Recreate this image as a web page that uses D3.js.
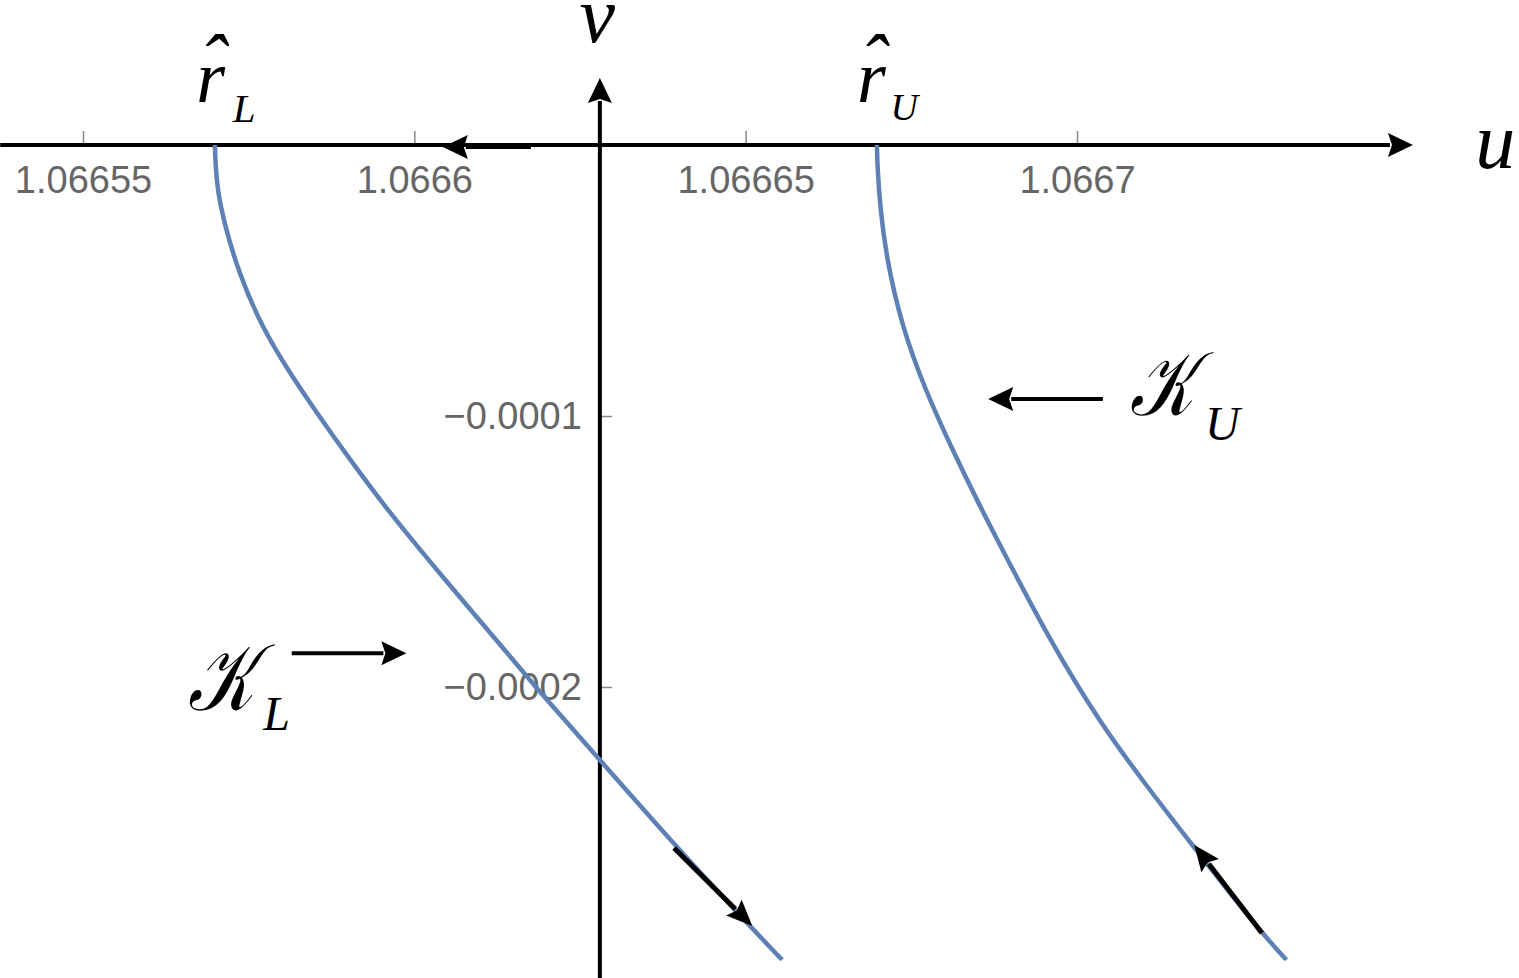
<!DOCTYPE html>
<html>
<head>
<meta charset="utf-8">
<script src="https://cdn.jsdelivr.net/npm/d3@7"></script>
<style>
  body { margin: 0; background: #fff; }
  .tick text { font-family: "Liberation Sans", Arial, sans-serif; font-size: 38px; fill: #666; }
  .tick line { stroke: #888; stroke-width: 1.5; }
  .math { font-family: "Liberation Serif", "DejaVu Serif", serif; font-style: italic; fill: #000; }
</style>
</head>
<body>
<div id="chart"></div>
<script>
// tick values and labels
var uTicks = [1.06655, 1.0666, 1.06665, 1.0667];
var uTickLabels = ["1.06655", "1.0666", "1.06665", "1.0667"];
var vTicks = [-0.0001, -0.0002];
var vTickLabels = ["\u22120.0001", "\u22120.0002"];

// lower branch K_L  [u, v]
var curveL = [
  [1.0665699, 0], [1.0665700, -0.0000074], [1.0665703, -0.0000166],
  [1.0665713, -0.0000288], [1.0665735, -0.0000472], [1.0665770, -0.0000672],
  [1.0665812, -0.0000841], [1.0665850, -0.0000978], [1.0665903, -0.0001162],
  [1.0665963, -0.0001358], [1.0666025, -0.0001542], [1.0666089, -0.0001727],
  [1.0666149, -0.0001900], [1.0666196, -0.0002037], [1.0666280, -0.0002269],
  [1.0666390, -0.0002576], [1.0666502, -0.0002871], [1.0666555, -0.0003007]
];

// upper branch K_U  [u, v]
var curveU = [
  [1.0666698, 0], [1.0666699, -0.0000089], [1.0666703, -0.0000229],
  [1.0666712, -0.0000413], [1.0666736, -0.0000672], [1.0666771, -0.0000904],
  [1.0666810, -0.0001114], [1.0666851, -0.0001321], [1.0666893, -0.0001520],
  [1.0666959, -0.0001827], [1.0667032, -0.0002122], [1.0667106, -0.0002369],
  [1.0667174, -0.0002583], [1.0667239, -0.0002786], [1.0667278, -0.0002904],
  [1.0667316, -0.0003007]
];

// direction arrows sitting on the curves
var flowArrows = [
  {from: [1.0666392, -0.0002594], to: [1.0666510, -0.0002882]},
  {from: [1.0667279, -0.0002908], to: [1.0667177, -0.0002583]}
];

// arrows pointing from the labels at the curves
var labelArrows = [
  {from: [1.0665815, -0.0001875], to: [1.0665988, -0.0001875]},
  {from: [1.0667039, -0.0000937], to: [1.0666866, -0.0000937]},
  {from: [1.0666176, -0.0000007], to: [1.0666043, -0.0000007]}
];

// where the axes sit and how far they reach
var uAxisAt = 1.066628;   // the v axis crosses here
var uRange = [1.0665375, 1.0667507];
var vRange = [-0.0003074, 0.0000247];
var vClip = -0.000301;

var width = 1519, height = 978;

var svg = d3.select("#chart").append("svg")
  .attr("width", width)
  .attr("height", height)
  .style("background", "#fff");

var x = d3.scaleLinear().domain([1.06655, 1.0667]).range([83, 1077]);
var y = d3.scaleLinear().domain([0, -0.0002]).range([145, 687]);

// ticks only, the axis lines are drawn as arrows below
var xAxis = d3.axisBottom(x)
  .tickValues(uTicks)
  .tickFormat(function(d, i){ return uTickLabels[i]; })
  .tickSizeInner(-14)
  .tickSizeOuter(0)
  .tickPadding(21);

svg.append("g")
  .attr("class", "x-axis")
  .attr("transform", "translate(0," + y(0) + ")")
  .call(xAxis)
  .call(function(g){ g.select(".domain").remove(); });

var yAxis = d3.axisLeft(y)
  .tickValues(vTicks)
  .tickFormat(function(d, i){ return vTickLabels[i]; })
  .tickSizeInner(-12)
  .tickSizeOuter(0)
  .tickPadding(18);

svg.append("g")
  .attr("class", "y-axis")
  .attr("transform", "translate(" + x(uAxisAt) + ",0)")
  .call(yAxis)
  .call(function(g){ g.select(".domain").remove(); });

svg.selectAll(".tick text").attr("font-family", null).attr("font-size", null);

function drawArrow(g, x1, y1, x2, y2, w, headLen, headHalf){
  var dx = x2 - x1, dy = y2 - y1;
  var len = Math.sqrt(dx*dx + dy*dy);
  var ux = dx / len, uy = dy / len;
  var bx = x2 - ux*headLen, by = y2 - uy*headLen;
  g.append("line")
    .attr("x1", x1).attr("y1", y1)
    .attr("x2", bx + ux*2).attr("y2", by + uy*2)
    .attr("stroke", "#000")
    .attr("stroke-width", w);
  g.append("path")
    .attr("d", "M" + x2 + "," + y2 +
      "L" + (bx - uy*headHalf) + "," + (by + ux*headHalf) +
      "L" + (bx + ux*4) + "," + (by + uy*4) +
      "L" + (bx + uy*headHalf) + "," + (by - ux*headHalf) + "Z")
    .attr("fill", "#000");
}

var axes = svg.append("g");
// u axis
drawArrow(axes, x(uRange[0]), y(0), x(uRange[1]), y(0), 4, 25, 12);
// v axis
drawArrow(axes, x(uAxisAt), y(vRange[0]), x(uAxisAt), y(vRange[1]), 4, 25, 12);

// the curves, clipped at the bottom of the plot
svg.append("clipPath").attr("id", "plotClip")
  .append("rect")
  .attr("x", 0).attr("y", 0)
  .attr("width", width).attr("height", y(vClip));

var line = d3.line()
  .x(function(d){ return x(d[0]); })
  .y(function(d){ return y(d[1]); })
  .curve(d3.curveBasis);

svg.append("g")
  .attr("clip-path", "url(#plotClip)")
  .selectAll("path")
  .data([curveL, curveU])
  .enter()
  .append("path")
  .attr("d", line)
  .attr("fill", "none")
  .attr("stroke", "#5E81B5")
  .attr("stroke-width", 4.5);

var arrows = svg.append("g");
flowArrows.forEach(function(a){
  drawArrow(arrows, x(a.from[0]), y(a.from[1]), x(a.to[0]), y(a.to[1]), 5, 26, 11);
});
labelArrows.forEach(function(a){
  drawArrow(arrows, x(a.from[0]), y(a.from[1]), x(a.to[0]), y(a.to[1]), 4, 25, 12);
});

// math labels
var labels = svg.append("g").attr("class", "math");

function mathText(u, v, txt, size, anchor){
  return labels.append("text")
    .attr("x", x(u)).attr("y", y(v))
    .attr("font-size", size)
    .attr("text-anchor", anchor || "start")
    .text(txt);
}

// r hat with its subscript, one text with tspans
function rHat(u, v, sub, subSize, subDx, subDy){
  var t = labels.append("text")
    .attr("x", x(u)).attr("y", y(v));
  t.append("tspan").attr("font-size", 74).text("r");
  t.append("tspan").attr("font-size", 80).attr("dx", -26).attr("dy", -12).text("\u02C6");
  t.append("tspan").attr("font-size", subSize).attr("dx", subDx).attr("dy", subDy).text(sub);
}

mathText(1.0666276, 0.000038, "v", 80, "middle");
mathText(1.0667601, -0.0000085, "u", 80);

rHat(1.0665671, 0.0000159, "L", 41, 7, 32);
rHat(1.0666668, 0.0000159, "U", 38, 4, 30);

// calligraphic K squeezed to the width seen in the picture
mathText(1.0665659, -0.0002085, "\uD835\uDCA6", 94)
  .attr("textLength", 66).attr("lengthAdjust", "spacingAndGlyphs");
mathText(1.0665772, -0.0002159, "L", 48);

mathText(1.0667080, -0.0000996, "\uD835\uDCA6", 90)
  .attr("textLength", 64).attr("lengthAdjust", "spacingAndGlyphs");
mathText(1.0667193, -0.0001089, "U", 48);
</script>
</body>
</html>
